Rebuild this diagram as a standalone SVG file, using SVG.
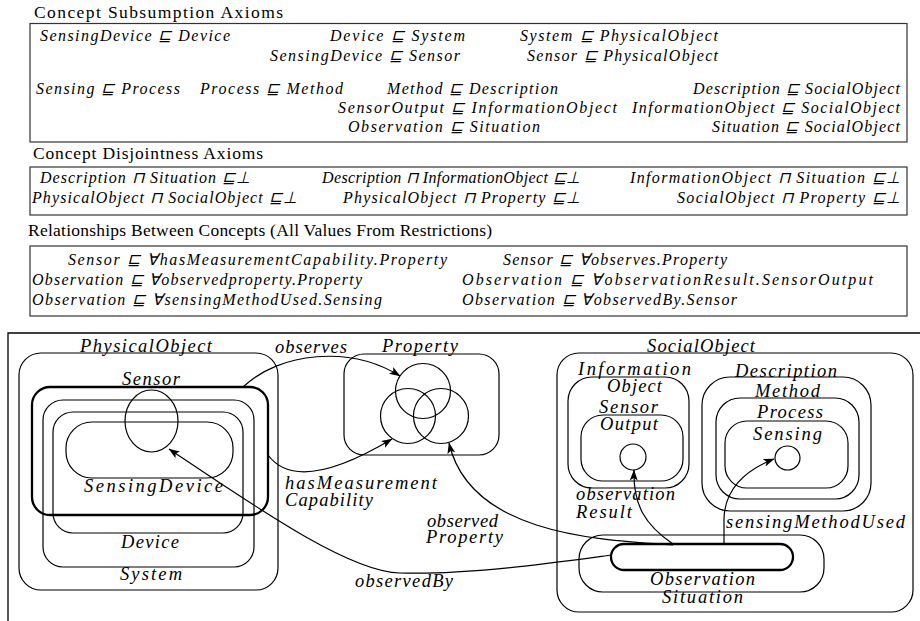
<svg xmlns="http://www.w3.org/2000/svg" width="920" height="621" viewBox="0 0 920 621">
<style>
text{font-family:"Liberation Serif",serif;fill:#000}
.h{font-size:17.5px}
.m{font-size:16px;font-style:italic}
.d{font-size:18.5px;font-style:italic}
.box{fill:none;stroke:#333;stroke-width:1.2}
.n{fill:none;stroke:#000;stroke-width:1.2}
.t{fill:none;stroke:#000;stroke-width:2.3}
.c{fill:none;stroke:#000;stroke-width:1.2}
</style>
<defs>
<marker id="ah" viewBox="0 0 11 8" refX="10.5" refY="4" markerWidth="11" markerHeight="8" orient="auto" markerUnits="userSpaceOnUse">
<path d="M0,0 L11,4 L0,8 L2.5,4 z" fill="#000"/>
</marker>
</defs>
<rect width="920" height="621" fill="#fff"/>

<g id="subsumption">
<text class="h" x="34" y="18" textLength="249">Concept Subsumption Axioms</text>
<rect class="box" x="30" y="23.5" width="877" height="118.5"/>
<text class="m" x="40" y="41" textLength="190">SensingDevice ⊑ Device</text>
<text class="m" x="330" y="41" textLength="135">Device ⊑ System</text>
<text class="m" x="520" y="41" textLength="198">System ⊑ PhysicalObject</text>
<text class="m" x="270" y="61" textLength="190">SensingDevice ⊑ Sensor</text>
<text class="m" x="527" y="61" textLength="191">Sensor ⊑ PhysicalObject</text>
<text class="m" x="36" y="94" textLength="144">Sensing ⊑ Process</text>
<text class="m" x="200" y="94" textLength="143">Process ⊑ Method</text>
<text class="m" x="387" y="94" textLength="171">Method ⊑ Description</text>
<text class="m" x="693" y="94" textLength="207">Description ⊑ SocialObject</text>
<text class="m" x="338" y="113" textLength="279">SensorOutput ⊑ InformationObject</text>
<text class="m" x="632" y="113" textLength="268">InformationObject ⊑ SocialObject</text>
<text class="m" x="348" y="132" textLength="192">Observation ⊑ Situation</text>
<text class="m" x="712" y="132" textLength="188">Situation ⊑ SocialObject</text>
</g>

<g id="disjointness">
<text class="h" x="33" y="159" textLength="230">Concept Disjointness Axioms</text>
<rect class="box" x="30" y="167" width="877" height="48"/>
<text class="m" x="40" y="183" textLength="210">Description ⊓ Situation ⊑⊥</text>
<text class="m" x="322" y="183" textLength="258">Description ⊓ InformationObject ⊑⊥</text>
<text class="m" x="630" y="183" textLength="270">InformationObject ⊓ Situation ⊑⊥</text>
<text class="m" x="32" y="203" textLength="265">PhysicalObject ⊓ SocialObject ⊑⊥</text>
<text class="m" x="343" y="203" textLength="237">PhysicalObject ⊓ Property ⊑⊥</text>
<text class="m" x="677" y="203" textLength="223">SocialObject ⊓ Property ⊑⊥</text>
</g>

<g id="relationships">
<text class="h" x="28" y="236" textLength="464">Relationships Between Concepts (All Values From Restrictions)</text>
<rect class="box" x="30" y="246" width="877" height="70"/>
<text class="m" x="68" y="265" textLength="379">Sensor ⊑ ∀hasMeasurementCapability.Property</text>
<text class="m" x="503" y="265" textLength="224">Sensor ⊑ ∀observes.Property</text>
<text class="m" x="32" y="285" textLength="330">Observation ⊑ ∀observedproperty.Property</text>
<text class="m" x="462" y="285" textLength="411">Observation ⊑ ∀observationResult.SensorOutput</text>
<text class="m" x="32" y="305" textLength="350">Observation ⊑ ∀sensingMethodUsed.Sensing</text>
<text class="m" x="462" y="305" textLength="275">Observation ⊑ ∀observedBy.Sensor</text>
</g>

<path id="frame" d="M8,640 L8,333 L930,333" fill="none" stroke="#000" stroke-width="1.3"/>

<g id="PhysicalObject">
<rect class="n" x="19" y="353" width="259" height="237" rx="22"/>
<text class="d" x="80" y="352" textLength="132">PhysicalObject</text>
</g>
<g id="System">
<rect class="n" x="43" y="400" width="211" height="167" rx="20"/>
<text class="d" x="120" y="580" textLength="62">System</text>
</g>
<g id="Device">
<rect class="n" x="53" y="412" width="190" height="121" rx="20"/>
<text class="d" x="121" y="548" textLength="58">Device</text>
</g>
<g id="SensingDevice">
<rect class="n" x="66" y="422" width="167" height="56" rx="26"/>
<text class="d" x="84" y="492" textLength="139">SensingDevice</text>
</g>
<g id="Sensor">
<rect class="t" x="32" y="387" width="236" height="128" rx="18"/>
<ellipse class="n" cx="151.5" cy="421" rx="26.5" ry="31"/>
<text class="d" x="122" y="385" textLength="58">Sensor</text>
</g>

<g id="Property">
<rect class="n" x="344" y="354" width="155" height="101" rx="20"/>
<circle class="n" cx="423" cy="391" r="27.5"/>
<circle class="n" cx="408" cy="416" r="27.5"/>
<circle class="n" cx="441" cy="416" r="27.5"/>
<text class="d" x="382" y="352" textLength="76">Property</text>
</g>

<g id="SocialObject">
<rect class="n" x="557" y="353" width="356" height="259" rx="22"/>
<text class="d" x="647" y="352" textLength="108">SocialObject</text>
</g>
<g id="InformationObject">
<rect class="n" x="568" y="377" width="121" height="111" rx="24"/>
<text class="d" x="578" y="375" textLength="113">Information</text>
<text class="d" x="607" y="392" textLength="55">Object</text>
</g>
<g id="SensorOutput">
<rect class="n" x="581" y="415" width="102" height="66" rx="22"/>
<circle class="n" cx="633" cy="457" r="13"/>
<text class="d" x="599" y="413" textLength="59">Sensor</text>
<text class="d" x="600" y="430" textLength="58">Output</text>
</g>
<g id="Description">
<rect class="n" x="702" y="377" width="169" height="134" rx="28"/>
<text class="d" x="735" y="377" textLength="102">Description</text>
</g>
<g id="Method">
<rect class="n" x="716" y="398" width="143" height="101" rx="24"/>
<text class="d" x="755" y="397" textLength="65">Method</text>
</g>
<g id="Process">
<rect class="n" x="725" y="421" width="123" height="67" rx="22"/>
<text class="d" x="757" y="418" textLength="66">Process</text>
</g>
<g id="Sensing">
<ellipse class="n" cx="787.5" cy="458" rx="12.5" ry="12"/>
<text class="d" x="753" y="440" textLength="69">Sensing</text>
</g>
<g id="Situation">
<rect class="n" x="579" y="535" width="245" height="57" rx="24"/>
<text class="d" x="662" y="603" textLength="81">Situation</text>
</g>
<g id="Observation">
<rect class="t" x="611" y="544" width="182" height="26" rx="13"/>
<text class="d" x="650" y="585" textLength="105">Observation</text>
</g>

<g id="connectors">
<path class="c" d="M243,387 C280,352 350,345 400,376" marker-end="url(#ah)"/>
<text class="d" x="275" y="353" textLength="72">observes</text>
<path class="c" d="M268,455 C285,478 320,482 392,439" marker-end="url(#ah)"/>
<text class="d" x="285" y="489" textLength="152">hasMeasurement</text>
<text class="d" x="285" y="506" textLength="88">Capability</text>
<path class="c" d="M673,545 C600,540 470,535 449,443" marker-end="url(#ah)"/>
<text class="d" x="427" y="527" textLength="71">observed</text>
<text class="d" x="426" y="543" textLength="77">Property</text>
<path class="c" d="M612,555 C560,562 470,575 400,573 C350,572 260,510 169,449" marker-end="url(#ah)"/>
<text class="d" x="355" y="587" textLength="98">observedBy</text>
<path class="c" d="M673,544 C645,525 633,505 634,470" marker-end="url(#ah)"/>
<text class="d" x="576" y="500" textLength="99">observation</text>
<text class="d" x="576" y="518" textLength="56">Result</text>
<path class="c" d="M724,544 L724,520 C724,490 745,470 774,459" marker-end="url(#ah)"/>
<text class="d" x="726" y="528" textLength="179">sensingMethodUsed</text>
</g>
</svg>
